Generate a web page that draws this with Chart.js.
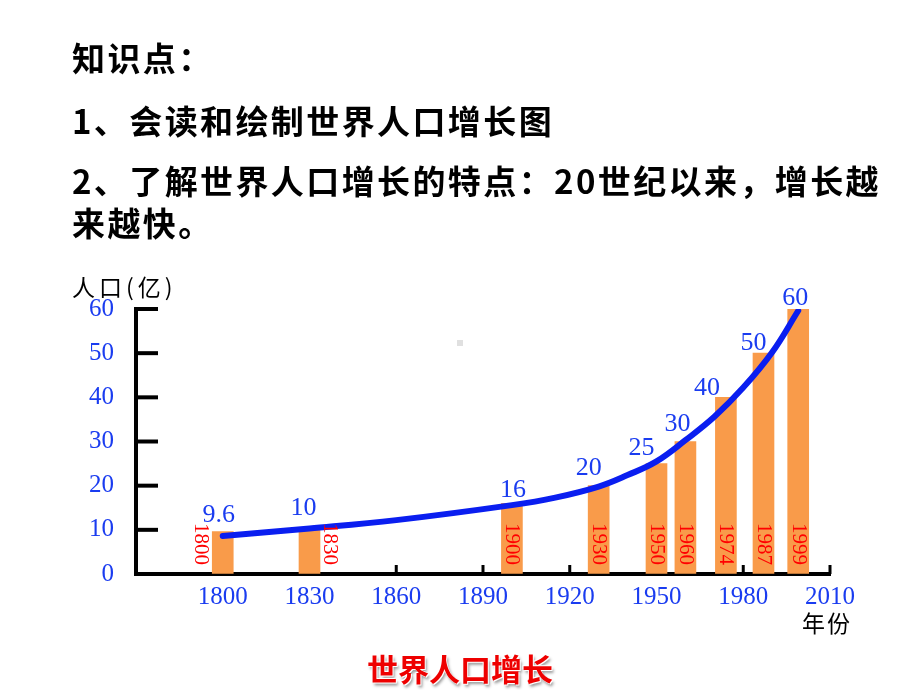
<!DOCTYPE html>
<html><head><meta charset="utf-8">
<script src="https://cdn.jsdelivr.net/npm/chart.js@4/dist/chart.umd.min.js"></script>
<style>
html,body{margin:0;padding:0;background:#fff;width:920px;height:690px;overflow:hidden;}
#wrap{position:relative;width:920px;height:690px;}
canvas{position:absolute;left:0;top:0;}
.t{position:absolute;left:72px;font-family:"Noto Sans CJK SC";font-weight:bold;font-size:33px;letter-spacing:2.4px;color:#000;white-space:nowrap;line-height:40px;}
.ax{position:absolute;font-family:"Noto Sans CJK SC";font-size:23px;color:#000;white-space:nowrap;line-height:30px;}
.cap{position:absolute;left:0;width:920px;text-align:center;top:648px;font-family:"Noto Sans CJK SC";font-weight:bold;font-size:31px;line-height:40px;color:#ee0000;text-shadow:1px 1px 0 #fff,-1px -1px 0 #fff,2px 3px 3px #999;}
.dot{position:absolute;left:457px;top:340px;width:6px;height:6px;background:#e0e0e0;}
</style></head><body>
<div id="wrap">
<canvas id="c" width="920" height="690"></canvas>
<div class="t" style="top:37px">知识点：</div>
<div class="t" style="top:100px">1、会读和绘制世界人口增长图</div>
<div class="t" style="top:160px">2、了解世界人口增长的特点：20世纪以来，增长越</div>
<div class="t" style="top:202px">来越快。</div>
<div class="ax" style="left:72px;top:271px;letter-spacing:4px">人口(亿)</div>
<div class="ax" style="left:802px;top:607px;letter-spacing:2px">年份</div>
<div class="cap">世界人口增长</div>
<div class="dot"></div>
</div>
<script>
// ---- data ----
const barYears   = [1800, 1830, 1900, 1930, 1950, 1960, 1974, 1987, 1999];
const barValues  = [9.6, 10, 16, 20, 25, 30, 40, 50, 60];
const valueLabels = ['9.6', '10', '16', '20', '25', '30', '40', '50', '60'];
const yearLabels = ['1800', '1830', '1900', '1930', '1950', '1960', '1974', '1987', '1999'];
const curveYears  = [1800, 1830, 1860, 1900, 1915, 1930, 1940, 1950, 1960, 1970, 1980, 1990, 1999];
const curveValues = [8.6, 10.3, 12.2, 15.6, 17.3, 19.8, 22.4, 25.5, 30.3, 35.6, 42.2, 50.2, 59.6];
const xTickValues = [1800, 1830, 1860, 1890, 1920, 1950, 1980, 2010];
const yTickValues = [0, 10, 20, 30, 40, 50, 60];

// ---- label styling (nudges, not data) ----
const valueNudgeX = [-4, -6, 1, -10, -15, -8, -19, -10, -3];
const valueGap    = [10, 15, 6, 11, 9, 11, 2, 3, 4];
const yearShiftX  = [-22, 20, 0, 0, 0, 0, 0, 0, 0];

const BLUE_TXT = '#1a3cf0';
const serif = '"Liberation Serif", "DejaVu Serif", serif';

const decor = {
  id: 'decor',
  beforeDatasetsDraw(chart) {
    const {ctx, scales: {x, y}} = chart;
    ctx.save();
    ctx.strokeStyle = '#000';
    ctx.lineWidth = 4;
    yTickValues.forEach(v => {
      if (v === 0) return;
      const py = y.getPixelForValue(v);
      ctx.beginPath(); ctx.moveTo(x.left, py); ctx.lineTo(x.left + 22, py); ctx.stroke();
    });
    ctx.lineWidth = 3;
    xTickValues.forEach(v => {
      const px = x.getPixelForValue(v);
      ctx.beginPath(); ctx.moveTo(px, y.bottom); ctx.lineTo(px, y.bottom - 9); ctx.stroke();
    });
    ctx.restore();
  },
  afterDatasetsDraw(chart) {
    const {ctx, scales: {x, y}} = chart;
    ctx.save();
    // red rotated year labels
    ctx.fillStyle = '#ff0000';
    ctx.font = '21px ' + serif;
    ctx.textAlign = 'left';
    ctx.textBaseline = 'middle';
    barYears.forEach((yr, i) => {
      const px = x.getPixelForValue(yr) + yearShiftX[i];
      const py = y.getPixelForValue(0) - 51;
      ctx.save();
      ctx.translate(px, py);
      ctx.rotate(Math.PI / 2);
      ctx.fillText(yearLabels[i], 0, 0);
      ctx.restore();
    });
    // blue value labels
    ctx.fillStyle = BLUE_TXT;
    ctx.font = '26px ' + serif;
    ctx.textAlign = 'center';
    ctx.textBaseline = 'alphabetic';
    barYears.forEach((yr, i) => {
      const px = x.getPixelForValue(yr) + valueNudgeX[i];
      const py = y.getPixelForValue(barValues[i]) - valueGap[i];
      ctx.fillText(valueLabels[i], px, py);
    });
    ctx.restore();
  }
};

new Chart(document.getElementById('c'), {
  type: 'bar',
  data: {
    datasets: [
      {
        type: 'line',
        data: curveYears.map((yr, i) => ({x: yr, y: curveValues[i]})),
        borderColor: '#0a1ef0',
        borderWidth: 6,
        borderCapStyle: 'round',
        pointRadius: 0,
        tension: 0.4,
        fill: false,
        order: 0
      },
      {
        type: 'bar',
        data: barYears.map((yr, i) => ({x: yr, y: barValues[i]})),
        backgroundColor: '#f99b4a',
        borderWidth: 0,
        barThickness: 21,
        order: 1
      }
    ]
  },
  options: {
    responsive: false,
    devicePixelRatio: 1,
    animation: false,
    layout: {padding: {top: 309, right: 90, bottom: 0, left: 0}},
    plugins: {legend: {display: false}, tooltip: {enabled: false}, title: {display: false}},
    scales: {
      x: {
        type: 'linear',
        min: 1770, max: 2010,
        offset: false,
        afterBuildTicks(scale) { scale.ticks = xTickValues.map(v => ({value: v})); },
        afterFit(scale) { scale.height = 116; },
        grid: {display: true, drawOnChartArea: false, drawTicks: false, offset: false},
        border: {display: true, color: '#000', width: 4},
        ticks: {color: BLUE_TXT, font: {family: serif, size: 25}, padding: 8, maxRotation: 0, autoSkip: false,
                callback: v => String(v)}
      },
      y: {
        type: 'linear',
        min: 0, max: 60,
        afterBuildTicks(scale) { scale.ticks = yTickValues.map(v => ({value: v})); },
        afterFit(scale) { scale.width = 136; },
        grid: {display: true, drawOnChartArea: false, drawTicks: false},
        border: {display: true, color: '#000', width: 4},
        ticks: {color: BLUE_TXT, font: {family: serif, size: 25}, padding: 22}
      }
    }
  },
  plugins: [decor]
});
</script>
</body></html>
